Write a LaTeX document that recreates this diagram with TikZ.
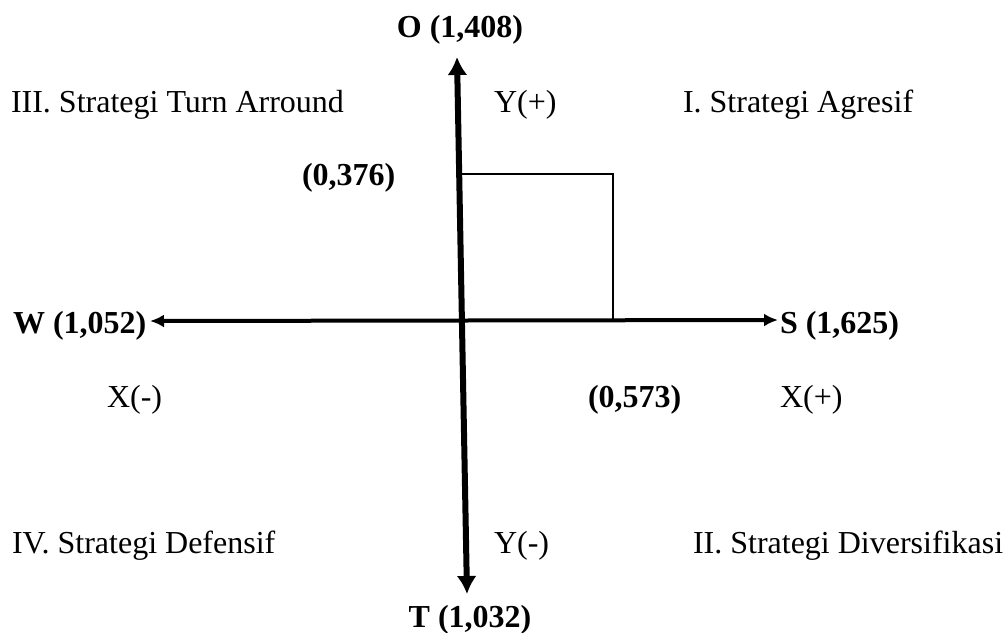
\documentclass[tikz,border=0pt]{standalone}
\usepackage{fontspec}
\setmainfont{Liberation Serif}
\usetikzlibrary{arrows.meta}

\begin{document}
\begin{tikzpicture}[x=0.5pt, y=-0.5pt,
    every node/.style={inner sep=0pt, outer sep=0pt, font=\fontsize{16}{19}\selectfont},
    quadlabel/.style={anchor=base west},
    axislabel/.style={anchor=base west, font=\fontsize{16}{19}\selectfont\bfseries}]
  \useasboundingbox (0,0) rectangle (1006,632);
  % axis end points
  \coordinate (otip) at (457,57);
  \coordinate (ttip) at (467,594);
  \coordinate (wtip) at (150,321);
  \coordinate (stip) at (778,320);
  \coordinate (ycut) at (459.2,174);
  \coordinate (corner) at (613,174);
  \coordinate (xcut) at (613,320.2);
  % axes
  \draw[line width=3pt, {Latex[length=9pt,width=10pt]}-{Latex[length=9pt,width=10pt]}] (ttip) -- (otip);
  \draw[line width=2pt, {Latex[length=7pt,width=6.5pt]}-{Latex[length=7pt,width=6.5pt]}] (wtip) -- (stip);
  \draw[line width=1pt] (ycut) -- (corner) -- (xcut);
  % axis labels
  \node[axislabel, anchor=base] (olabel) at (460,37) {O (1,408)};
  \node[axislabel, anchor=base] (tlabel) at (470,627) {T (1,032)};
  \node[axislabel] (wlabel) at (13,333) {W (1,052)};
  \node[axislabel] (slabel) at (780,333) {S (1,625)};
  \node[axislabel] (yval) at (302,185) {(0,376)};
  \node[axislabel] (xval) at (588,407) {(0,573)};
  % quadrants
  \node[quadlabel] (q3) at (11,112) {III. Strategi Turn Arround};
  \node[quadlabel] (yplus) at (494,112) {Y(+)};
  \node[quadlabel] (q1) at (683,112) {I. Strategi Agresif};
  \node[quadlabel] (xminus) at (107,407) {X(-)};
  \node[quadlabel] (xplus) at (780,407) {X(+)};
  \node[quadlabel] (q4) at (12,553) {IV. Strategi Defensif};
  \node[quadlabel] (yminus) at (494,553) {Y(-)};
  \node[quadlabel] (q2) at (693,553) {II. Strategi Diversifikasi};
\end{tikzpicture}
\end{document}
